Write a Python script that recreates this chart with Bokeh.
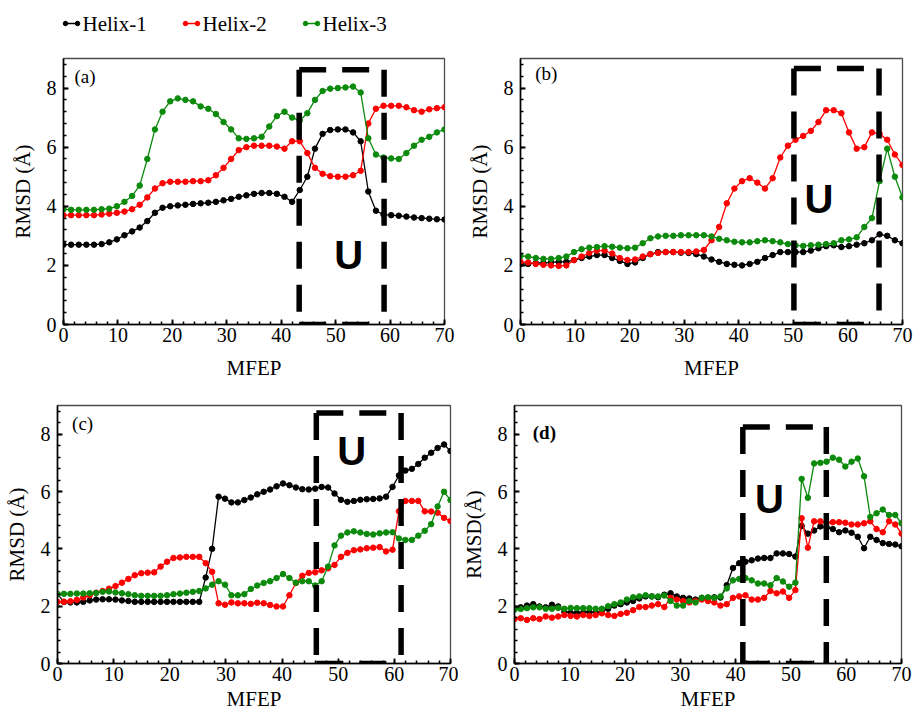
from bokeh.plotting import figure
from bokeh.layouts import column, row
from bokeh.models import Range1d, SingleIntervalTicker, Label
from bokeh.embed import file_html
from bokeh.resources import INLINE
from bokeh.core.properties import value

# ---------------------------------------------------------------- data
SERIES = ["Helix-1", "Helix-2", "Helix-3"]
COLORS = ["#000000", "#ff0000", "#0b8a0b"]

# MFEP sampling of each panel
MFEP_A = [round(1.4 * i, 3) for i in range(51)]
MFEP_B = [round(1.4 * i, 3) for i in range(51)]
MFEP_C = [round(70 / 61 * i, 3) for i in range(62)]
MFEP_D = [round(70 / 62 * i, 3) for i in range(63)]

# panel (a)
a_h1 = [2.70, 2.70, 2.70, 2.70, 2.70, 2.72, 2.78, 2.88, 3.02, 3.15,
        3.28, 3.50, 3.78, 3.95, 4.00, 4.03, 4.05, 4.08, 4.10, 4.12,
        4.15, 4.20, 4.25, 4.32, 4.37, 4.42, 4.45, 4.45, 4.42, 4.32,
        4.15, 4.55, 5.00, 5.95, 6.45, 6.58, 6.60, 6.60, 6.50, 6.20,
        4.50, 3.85, 3.72, 3.70, 3.68, 3.65, 3.62, 3.60, 3.58, 3.56,
        3.55]
a_h2 = [3.70, 3.70, 3.70, 3.70, 3.70, 3.72, 3.75, 3.78, 3.82, 3.90,
        4.05, 4.30, 4.60, 4.78, 4.83, 4.83, 4.83, 4.85, 4.85, 4.88,
        5.05, 5.30, 5.60, 5.90, 6.00, 6.05, 6.05, 6.05, 6.02, 5.95,
        6.20, 6.20, 5.80, 5.30, 5.10, 5.02, 5.00, 5.00, 5.05, 5.20,
        6.80, 7.30, 7.40, 7.40, 7.40, 7.35, 7.25, 7.20, 7.28, 7.32,
        7.35]
a_h3 = [3.90, 3.88, 3.88, 3.88, 3.88, 3.90, 3.92, 4.00, 4.15, 4.35,
        4.70, 5.60, 6.60, 7.20, 7.55, 7.65, 7.60, 7.55, 7.38, 7.30,
        7.12, 6.85, 6.60, 6.30, 6.28, 6.30, 6.35, 6.70, 7.05, 7.20,
        7.00, 6.90, 7.15, 7.60, 7.90, 7.98, 8.00, 8.02, 8.05, 7.85,
        6.30, 5.75, 5.65, 5.62, 5.60, 5.80, 6.05, 6.25, 6.35, 6.50,
        6.60]

# panel (b)
b_h1 = [2.05, 2.05, 2.08, 2.08, 2.10, 2.12, 2.12, 2.18, 2.25, 2.30,
        2.35, 2.35, 2.25, 2.15, 2.05, 2.10, 2.25, 2.38, 2.45, 2.45,
        2.45, 2.43, 2.42, 2.38, 2.30, 2.20, 2.12, 2.05, 2.02, 2.00,
        2.05, 2.12, 2.25, 2.35, 2.45, 2.45, 2.45, 2.45, 2.50, 2.58,
        2.65, 2.68, 2.62, 2.65, 2.70, 2.75, 2.85, 3.05, 3.00, 2.85,
        2.75]
b_h2 = [2.12, 2.10, 2.05, 2.02, 2.00, 1.98, 2.00, 2.18, 2.30, 2.42,
        2.50, 2.50, 2.40, 2.25, 2.18, 2.20, 2.30, 2.38, 2.42, 2.45,
        2.45, 2.45, 2.45, 2.47, 2.52, 2.85, 3.30, 4.10, 4.60, 4.85,
        4.95, 4.80, 4.60, 4.95, 5.65, 6.05, 6.25, 6.38, 6.55, 6.85,
        7.25, 7.25, 7.15, 6.50, 5.95, 6.00, 6.50, 6.45, 6.25, 5.75,
        5.40]
b_h3 = [2.32, 2.30, 2.25, 2.22, 2.22, 2.25, 2.30, 2.45, 2.55, 2.60,
        2.62, 2.65, 2.63, 2.60, 2.58, 2.60, 2.75, 2.92, 2.98, 3.00,
        3.00, 3.02, 3.02, 3.02, 3.02, 2.98, 2.90, 2.85, 2.80, 2.78,
        2.78, 2.82, 2.85, 2.82, 2.78, 2.72, 2.68, 2.66, 2.68, 2.70,
        2.72, 2.75, 2.85, 2.88, 2.95, 3.30, 3.60, 4.85, 5.95, 5.00,
        4.30]

# panel (c)
c_h1 = [2.42, 2.15, 2.13, 2.13, 2.15, 2.20, 2.23, 2.24, 2.24, 2.23,
        2.20, 2.18, 2.15, 2.15, 2.15, 2.15, 2.15, 2.15, 2.15, 2.15,
        2.15, 2.15, 2.15, 3.00, 4.00, 5.82, 5.75, 5.62, 5.62, 5.70,
        5.79, 5.90, 5.99, 6.07, 6.18, 6.28, 6.22, 6.14, 6.08, 6.07,
        6.10, 6.16, 6.14, 5.93, 5.71, 5.64, 5.67, 5.71, 5.73, 5.74,
        5.76, 5.82, 6.16, 6.56, 6.73, 6.79, 6.96, 7.18, 7.35, 7.52,
        7.64, 7.41]
c_h2 = [2.15, 2.15, 2.17, 2.22, 2.30, 2.38, 2.47, 2.53, 2.61, 2.70,
        2.82, 2.95, 3.08, 3.15, 3.17, 3.18, 3.38, 3.55, 3.68, 3.70,
        3.72, 3.72, 3.72, 3.50, 3.20, 2.10, 2.05, 2.13, 2.10, 2.10,
        2.08, 2.12, 2.10, 2.04, 1.99, 1.99, 2.38, 2.81, 3.06, 3.16,
        3.18, 3.25, 3.32, 3.44, 3.72, 3.86, 3.95, 3.98, 4.02, 4.04,
        4.06, 3.91, 3.97, 5.31, 5.67, 5.67, 5.67, 5.31, 5.30, 5.26,
        5.08, 4.97]
c_h3 = [2.42, 2.43, 2.43, 2.44, 2.44, 2.45, 2.46, 2.50, 2.51, 2.48,
        2.45, 2.42, 2.38, 2.36, 2.36, 2.36, 2.36, 2.38, 2.42, 2.44,
        2.47, 2.50, 2.53, 2.62, 2.75, 2.87, 2.75, 2.38, 2.38, 2.42,
        2.60, 2.72, 2.81, 2.87, 2.98, 3.12, 2.98, 2.82, 2.87, 2.87,
        2.72, 2.87, 3.38, 4.12, 4.46, 4.57, 4.61, 4.57, 4.52, 4.50,
        4.54, 4.57, 4.58, 4.36, 4.31, 4.31, 4.46, 4.63, 4.86, 5.48,
        5.99, 5.70]

# panel (d)
d_h1 = [1.91, 1.96, 2.02, 2.07, 1.99, 1.96, 2.05, 1.99, 1.80, 1.77,
        1.77, 1.77, 1.80, 1.77, 1.82, 1.91, 2.02, 2.07, 2.13, 2.18,
        2.27, 2.34, 2.34, 2.31, 2.40, 2.45, 2.34, 2.29, 2.27, 2.23,
        2.29, 2.29, 2.31, 2.30, 2.73, 3.33, 3.50, 3.55, 3.60, 3.66,
        3.68, 3.68, 3.84, 3.84, 3.82, 3.73, 4.80, 4.53, 4.64, 4.78,
        4.75, 4.69, 4.58, 4.64, 4.56, 4.42, 4.02, 4.42, 4.31, 4.20,
        4.17, 4.15, 4.09]
d_h2 = [1.55, 1.58, 1.52, 1.58, 1.55, 1.64, 1.60, 1.64, 1.69, 1.66,
        1.64, 1.69, 1.66, 1.69, 1.75, 1.69, 1.66, 1.73, 1.77, 1.86,
        1.97, 1.97, 2.02, 2.07, 1.97, 2.29, 2.23, 2.18, 2.13, 2.18,
        2.23, 2.18, 2.13, 2.02, 2.07, 2.29, 2.34, 2.38, 2.23, 2.23,
        2.29, 2.53, 2.45, 2.51, 2.29, 2.56, 5.07, 4.04, 4.96, 4.96,
        4.91, 4.93, 4.93, 4.91, 4.85, 4.85, 4.89, 4.96, 4.69, 4.58,
        4.96, 4.85, 4.53]
d_h3 = [1.88, 1.90, 1.93, 1.96, 1.96, 1.91, 1.91, 1.94, 1.91, 1.94,
        1.93, 1.93, 1.93, 1.91, 1.91, 2.00, 2.07, 2.13, 2.23, 2.31,
        2.34, 2.38, 2.34, 2.34, 2.37, 2.18, 2.02, 2.02, 2.18, 2.13,
        2.29, 2.31, 2.29, 2.34, 2.62, 2.90, 2.95, 2.98, 2.90, 2.79,
        2.79, 2.73, 2.98, 2.86, 2.68, 2.82, 6.44, 5.78, 6.98, 7.00,
        7.04, 7.18, 7.11, 6.87, 7.04, 7.15, 6.53, 5.11, 5.24, 5.37,
        5.18, 5.18, 4.89]

# unfolding window (MFEP start, MFEP end, top) of each panel
U_A = (43.3, 58.9, 8.62)
U_B = (50.1, 65.7, 8.66)
U_C = (46.1, 61.2, 8.74)
U_D = (41.3, 56.4, 8.25)

SERIF = "Liberation Serif"


def make_panel(width, height, left, right, top, bottom, ylabel, xlabel_gap):
    p = figure(width=width, height=height,
               x_range=Range1d(0, 70), y_range=Range1d(0, 9),
               output_backend="svg", toolbar_location=None,
               min_border_left=left, min_border_right=right,
               min_border_top=top, min_border_bottom=bottom)
    p.grid.visible = False
    p.background_fill_color = "white"
    p.border_fill_color = "white"
    p.outline_line_color = "#4d4d4d"
    p.outline_line_width = 1.3
    p.xaxis.ticker = SingleIntervalTicker(interval=10, num_minor_ticks=5)
    p.yaxis.ticker = SingleIntervalTicker(interval=2, num_minor_ticks=5)
    for ax in (p.xaxis[0], p.yaxis[0]):
        ax.axis_line_color = "black"
        ax.axis_line_width = 1.6
        ax.major_tick_in = 5
        ax.major_tick_out = 0
        ax.minor_tick_in = 3
        ax.minor_tick_out = 0
        ax.major_tick_line_width = 1.8
        ax.minor_tick_line_width = 1.5
        ax.major_tick_line_color = "black"
        ax.minor_tick_line_color = "black"
        ax.major_label_text_font = SERIF
        ax.major_label_text_font_size = "20px"
        ax.major_label_text_color = "black"
        ax.axis_label_text_font = SERIF
        ax.axis_label_text_font_size = "21px"
        ax.axis_label_text_font_style = "normal"
        ax.axis_label_text_color = "black"
    p.xaxis.axis_label = "MFEP"
    p.yaxis.axis_label = ylabel
    p.xaxis.major_label_standoff = 3
    p.xaxis.axis_label_standoff = xlabel_gap
    p.yaxis.major_label_standoff = 7
    p.yaxis.axis_label_standoff = 9
    return p


def draw_series(p, x, ys):
    for y, c in zip(ys, COLORS):
        p.line(x, y, line_color=c, line_width=1.3)
        p.scatter(x, y, size=5.5, fill_color=c, line_color=c)


def draw_window(p, win, ux, uy):
    x0, x1, top = win
    dash = dict(line_color="black", line_width=5.5, line_dash="27 16", line_cap="butt")
    p.line([x0, x0], [top, 0], **dash)
    p.line([x0, x1], [top, top], **dash)
    p.line([x1, x1], [top, 0], **dash)
    p.line([x0, x1], [0, 0], **dash)
    p.add_layout(Label(x=ux, y=uy, text="U", text_align="center", text_baseline="middle",
                       text_font="Liberation Sans", text_font_style="bold",
                       text_font_size="40px", text_color="black"))


def tag(p, text, x, y, bold=False):
    p.add_layout(Label(x=x, y=y, text=text, text_align="left", text_baseline="middle",
                       text_font=SERIF, text_font_size="19px",
                       text_font_style="bold" if bold else "normal", text_color="black"))


# header with the series key
header = figure(width=917, height=48, x_range=Range1d(0, 917), y_range=Range1d(48, 0),
                x_axis_type=None, y_axis_type=None, toolbar_location=None,
                output_backend="svg", min_border=0, outline_line_color=None)
header.background_fill_color = "white"
header.border_fill_color = "white"
for name, c, kx in zip(SERIES, COLORS, [65, 185, 305]):
    header.segment(x0=[kx], y0=[23], x1=[kx + 12], y1=[23], line_color=c, line_width=1.5)
    header.scatter([kx, kx + 12], [23, 23], size=4.5, fill_color=c, line_color=c)
    header.text(x=[kx + 17], y=[23], text=[name], text_font=value(SERIF),
                text_font_size="21px", text_baseline="middle", text_align="left",
                text_color="black")

pa = make_panel(454, 338, 63, 10, 10, 62, "RMSD (Å)", 11)
draw_series(pa, MFEP_A, [a_h1, a_h2, a_h3])
draw_window(pa, U_A, 52.4, 2.34)
tag(pa, "(a)", 2.0, 8.4)

pb = make_panel(463, 338, 66, 15, 10, 62, "RMSD (Å)", 11)
draw_series(pb, MFEP_B, [b_h1, b_h2, b_h3])
draw_window(pb, U_B, 54.7, 4.26)
tag(pb, "(b)", 2.7, 8.5)

pc = make_panel(458, 330, 57, 8, 19, 53, "RMSD (Å)", 3)
draw_series(pc, MFEP_C, [c_h1, c_h2, c_h3])
draw_window(pc, U_C, 52.4, 7.41)
tag(pc, "(c)", 2.6, 8.38)

pd = make_panel(459, 330, 50, 16, 2, 53, "RMSD(Å)", 3)
draw_series(pd, MFEP_D, [d_h1, d_h2, d_h3])
draw_window(pd, U_D, 46.1, 5.73)
tag(pd, "(d)", 3.3, 8.07, bold=True)

layout = column(header, row(pa, pb), row(pc, pd))

open("out.html", "w").write(file_html(layout, INLINE))
